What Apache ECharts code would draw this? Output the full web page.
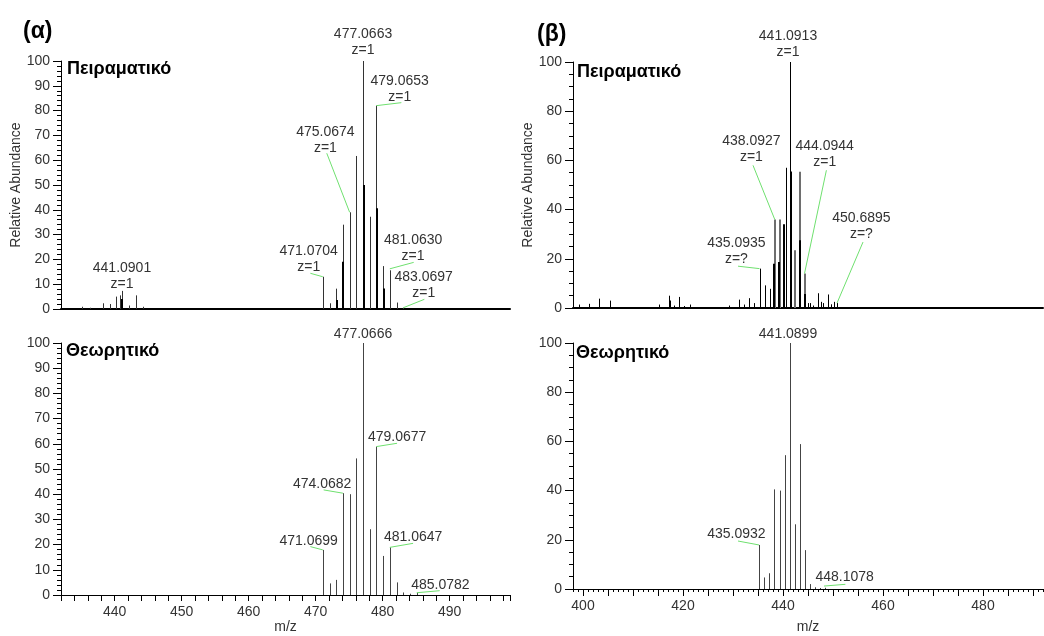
<!DOCTYPE html>
<html><head><meta charset="utf-8">
<script src="https://cdn.jsdelivr.net/npm/echarts@6/dist/echarts.min.js"></script>
<style>html,body{margin:0;padding:0;background:#fff}#c{width:1044px;height:636px}</style>
</head><body><div id="c"></div><script>
// ---------- (α) experimental spectrum ----------
const alphaExpMz = [435.2, 436.3, 438.3, 439.25, 440.25, 440.75, 441.09, 442.2, 443.2, 444.2,
  471.07, 472.07, 473.07, 474.07, 475.07, 476.07, 477.07, 478.07, 479.07, 480.06, 481.06, 482.07, 483.07];
const alphaExpAb = [0.9, 0.5, 2.3, 2.0, 5.0, 5.5, 7.3, 1.4, 5.5, 0.9,
  13.0, 2.3, 8.2, 34.0, 39.0, 61.7, 100, 37.2, 82.0, 17.3, 15.6, 2.6, 0.5];
// overlaid (bold) trace
const alphaExp2Mz = [441.15, 473.15, 474.15, 477.15, 479.15, 480.15];
const alphaExp2Ab = [4.0, 3.6, 19.1, 50.0, 40.6, 8.3];
const alphaExpLabels = ['441.0901\nz=1', '471.0704\nz=1', '475.0674\nz=1', '477.0663\nz=1', '479.0653\nz=1', '481.0630\nz=1', '483.0697\nz=1'];
const alphaExpLabelAt = [[441.1, 13.4], [468.96, 20.3], [471.45, 68.1], [477.07, 107.5], [482.54, 88.7], [484.54, 24.6], [486.12, 9.7]];
const alphaExpLeaders = [null, [469.21, 14.4, 471.07, 13.0], [471.66, 62.8, 475.07, 39.0], null,
  [482.79, 83.2, 479.07, 82.0], [484.63, 18.8, 481.06, 16.2], [486.22, 3.9, 483.07, 0.5]];

// ---------- (α) theoretical spectrum ----------
const alphaThMz = [471.07, 472.07, 473.07, 474.07, 475.07, 476.07, 477.07, 478.07, 479.07, 480.07, 481.06, 482.07, 483.07, 484.07, 485.08];
const alphaThAb = [17.9, 4.6, 6.0, 40.4, 40.0, 54.2, 100, 26.1, 58.9, 15.5, 18.9, 5.0, 1.0, 0.5, 0.9];
const alphaThLabels = ['471.0699', '474.0682', '477.0666', '479.0677', '481.0647', '485.0782'];
const alphaThLabelAt = [[468.96, 21.5], [470.96, 44.0], [477.07, 103.6], [482.15, 62.6], [484.54, 22.9], [488.61, 4.0]];
const alphaThLeaders = [[469.21, 19.2, 471.07, 17.9], [471.19, 41.7, 474.07, 40.4], null,
  [482.15, 60.2, 479.07, 58.9], [484.54, 20.5, 481.06, 18.9], [488.51, 1.7, 485.08, 0.9]];

// ---------- (β) experimental spectrum ----------
const betaExpThinMz = [399.2, 401.2, 403.2, 405.3, 415.2, 417.2, 418.2, 419.2, 420.2, 421.3, 429.2, 431.2, 432.2, 433.2, 434.2,
  435.3, 436.3, 437.3, 440.5, 441.3, 445.0, 445.4, 446.0, 447.0, 447.6, 448.0, 449.0, 449.6, 450.2, 450.8];
const betaExpThinAb = [1.4, 1.7, 3.8, 3.0, 1.4, 5.0, 1.0, 4.5, 0.8, 1.4, 1.0, 3.4, 1.4, 4.0, 2.0,
  16.0, 9.2, 7.8, 57.0, 100, 2.0, 2.0, 1.0, 6.0, 2.5, 2.0, 5.5, 1.5, 2.5, 2.0];
const betaExpBoldMz = [417.3, 438.2, 439.2, 440.2, 441.55, 443.4, 444.4];
const betaExpBoldAb = [3.0, 18.0, 18.7, 34.0, 55.5, 27.5, 5.7];
const betaExpGrayMz = [438.35, 439.35, 442.3, 443.3, 444.3];
const betaExpGrayAb = [36.0, 36.0, 23.5, 55.4, 14.0];
const betaExpLabels = ['435.0935\nz=?', '438.0927\nz=1', '441.0913\nz=1', '444.0944\nz=1', '450.6895\nz=?'];
const betaExpLabelAt = [[430.68, 23.2], [433.68, 64.6], [441.0, 107.3], [448.34, 62.4], [455.68, 33.1]];
const betaExpLeaders = [[431.0, 17.0, 435.3, 16.0], [434.0, 58.0, 438.35, 36.0], null,
  [448.68, 56.0, 444.3, 14.0], [456.0, 26.8, 450.8, 2.0]];

// ---------- (β) theoretical spectrum ----------
const betaThMz = [435.2, 436.2, 437.2, 438.2, 439.3, 440.3, 441.3, 442.3, 443.3, 444.3, 445.3, 446.3, 447.3, 448.3];
const betaThAb = [17.9, 4.7, 6.4, 40.5, 40.0, 54.4, 100, 26.3, 58.9, 15.8, 2.0, 0.7, 0.4, 0.5];
const betaThLabels = ['435.0932', '441.0899', '448.1078'];
const betaThLabelAt = [[430.68, 22.4], [441.0, 103.7], [452.34, 4.8]];
const betaThLeaders = [[431.0, 19.5, 435.2, 17.9], null, [452.48, 1.9, 448.2, 1.2]];

// ---------- axis ticks ----------
const alphaXLabelStep = 10;
const betaXMajorTicks = [400, 405, 410, 415, 420, 425, 430, 435, 440, 445, 450, 455, 460, 465, 470, 475, 480, 485, 490];
const betaXLabels = [400, 420, 440, 460, 480];

const FONT = '"Liberation Sans", Arial, sans-serif';
const zip = (a, b) => a.map((v, i) => [v, b[i]]);

function stickRender(color, width) {
  return function (params, api) {
    const p0 = api.coord([api.value(0), 0]);
    const p1 = api.coord([api.value(0), api.value(1)]);
    const x = width % 2 === 1 ? Math.round(p0[0]) + 0.5 : Math.round(p0[0]);
    return { type: 'line', shape: { x1: x, y1: p0[1], x2: x, y2: p1[1] }, style: { stroke: color, lineWidth: width } };
  };
}
function annRender(texts, leaders) {
  return function (params, api) {
    const i = params.dataIndex;
    const p = api.coord([api.value(0), api.value(1)]);
    const children = [];
    const L = leaders[i];
    if (L) {
      const a = api.coord([L[0], L[1]]);
      const b = api.coord([L[2], L[3]]);
      children.push({ type: 'line', shape: { x1: a[0], y1: a[1], x2: b[0], y2: b[1] }, style: { stroke: '#6fe06f', lineWidth: 1 } });
    }
    children.push({ type: 'text', style: { text: texts[i], x: p[0], y: p[1], align: 'center', verticalAlign: 'middle',
      font: '14px ' + FONT, fill: '#333', lineHeight: 16 } });
    return { type: 'group', children };
  };
}
function sticks(xi, mz, ab, color, width) {
  return { type: 'custom', xAxisIndex: xi, yAxisIndex: xi, data: zip(mz, ab),
    encode: { x: 0, y: 1 }, renderItem: stickRender(color, width), silent: true, z: 3 };
}
function anns(xi, yi, at, texts, leaders) {
  return { type: 'custom', xAxisIndex: xi, yAxisIndex: yi, data: at, encode: { x: 0, y: 1 },
    renderItem: annRender(texts, leaders), silent: true, z: 4, clip: false };
}

const yBase = (grid, interval, minorSplit, withName) => ({
  type: 'value', gridIndex: grid, min: 0, max: 100, interval: interval,
  axisLine: { show: true, lineStyle: { color: '#000', width: 1 } },
  axisTick: { show: true, length: 8, lineStyle: { color: '#000' } },
  minorTick: { show: true, splitNumber: minorSplit, length: 4, lineStyle: { color: '#000' } },
  splitLine: { show: false }, minorSplitLine: { show: false },
  axisLabel: { color: '#333', fontSize: 14, fontFamily: FONT, margin: 11, showMinLabel: true, showMaxLabel: true },
  name: withName ? 'Relative Abundance' : '', nameLocation: 'middle', nameGap: 33,
  nameTextStyle: { color: '#333', fontSize: 14, fontFamily: FONT }
});

const option = {
  animation: false,
  textStyle: { fontFamily: FONT },
  grid: [
    { left: 61, top: 61, width: 449, height: 248 },
    { left: 61, top: 343, width: 449, height: 252 },
    { left: 573, top: 62, width: 470, height: 246 },
    { left: 573, top: 343, width: 470, height: 246 }
  ],
  xAxis: [
    { type: 'value', gridIndex: 0, position: 'bottom', min: 432, max: 499, axisLine: { show: true, onZero: false, lineStyle: { color: '#000', width: 2 } },
      axisTick: { show: false }, axisLabel: { show: false }, splitLine: { show: false } },
    { type: 'value', gridIndex: 1, position: 'bottom', min: 432, max: 499, interval: 2,
      axisLine: { show: true, onZero: false, lineStyle: { color: '#000', width: 1 } },
      axisTick: { show: true, length: 6, lineStyle: { color: '#000' } },
      axisLabel: { color: '#333', fontSize: 14, fontFamily: FONT, margin: 10, showMinLabel: true, showMaxLabel: true,
        formatter: v => (v % alphaXLabelStep === 0 ? String(v) : '') },
      splitLine: { show: false }, name: 'm/z', nameLocation: 'middle', nameGap: 25,
      nameTextStyle: { color: '#333', fontSize: 14, fontFamily: FONT } },
    { type: 'value', gridIndex: 2, position: 'bottom', min: 398, max: 492, axisLine: { show: true, onZero: false, lineStyle: { color: '#000', width: 2 } },
      axisTick: { show: false }, axisLabel: { show: false }, splitLine: { show: false } },
    { type: 'value', gridIndex: 3, position: 'bottom', min: 398, max: 492, interval: 1,
      axisLine: { show: true, onZero: false, lineStyle: { color: '#000', width: 1 } },
      axisTick: { show: true, length: 3, lineStyle: { color: '#000' } },
      axisLabel: { show: false }, splitLine: { show: false } },
    { type: 'value', gridIndex: 3, position: 'bottom', offset: 0, min: 398, max: 492,
      axisLine: { show: false, onZero: false },
      axisTick: { show: true, length: 7, customValues: betaXMajorTicks, lineStyle: { color: '#000' } },
      axisLabel: { color: '#333', fontSize: 14, fontFamily: FONT, margin: 10, customValues: betaXLabels },
      splitLine: { show: false }, name: 'm/z', nameLocation: 'middle', nameGap: 31,
      nameTextStyle: { color: '#333', fontSize: 14, fontFamily: FONT } }
  ],
  yAxis: [yBase(0, 10, 5, true), yBase(1, 10, 5, false), yBase(2, 20, 4, true), yBase(3, 20, 4, false)],
  graphic: [
    { type: 'text', left: 23, top: 20, style: { text: '(α)', font: 'bold 23px ' + FONT, fill: '#000' } },
    { type: 'text', left: 537, top: 23, style: { text: '(β)', font: 'bold 23px ' + FONT, fill: '#000' } },
    { type: 'text', left: 67, top: 60, style: { text: 'Πειραματικό', font: 'bold 18px ' + FONT, fill: '#000' } },
    { type: 'text', left: 577, top: 63, style: { text: 'Πειραματικό', font: 'bold 18px ' + FONT, fill: '#000' } },
    { type: 'text', left: 66, top: 342, style: { text: 'Θεωρητικό', font: 'bold 18px ' + FONT, fill: '#000' } },
    { type: 'text', left: 576, top: 344, style: { text: 'Θεωρητικό', font: 'bold 18px ' + FONT, fill: '#000' } }
  ],
  series: [
    sticks(0, alphaExpMz, alphaExpAb, '#333', 1),
    sticks(0, alphaExp2Mz, alphaExp2Ab, '#000', 2),
    anns(0, 0, alphaExpLabelAt, alphaExpLabels, alphaExpLeaders),
    sticks(1, alphaThMz, alphaThAb, '#444', 1),
    anns(1, 1, alphaThLabelAt, alphaThLabels, alphaThLeaders),
    sticks(2, betaExpGrayMz, betaExpGrayAb, '#6e6e6e', 2),
    sticks(2, betaExpThinMz, betaExpThinAb, '#000', 1),
    sticks(2, betaExpBoldMz, betaExpBoldAb, '#000', 2),
    anns(2, 2, betaExpLabelAt, betaExpLabels, betaExpLeaders),
    sticks(3, betaThMz, betaThAb, '#444', 1),
    anns(3, 3, betaThLabelAt, betaThLabels, betaThLeaders)
  ]
};
const chart = echarts.init(document.getElementById('c'), null, { renderer: 'canvas' });
chart.setOption(option);
</script></body></html>
